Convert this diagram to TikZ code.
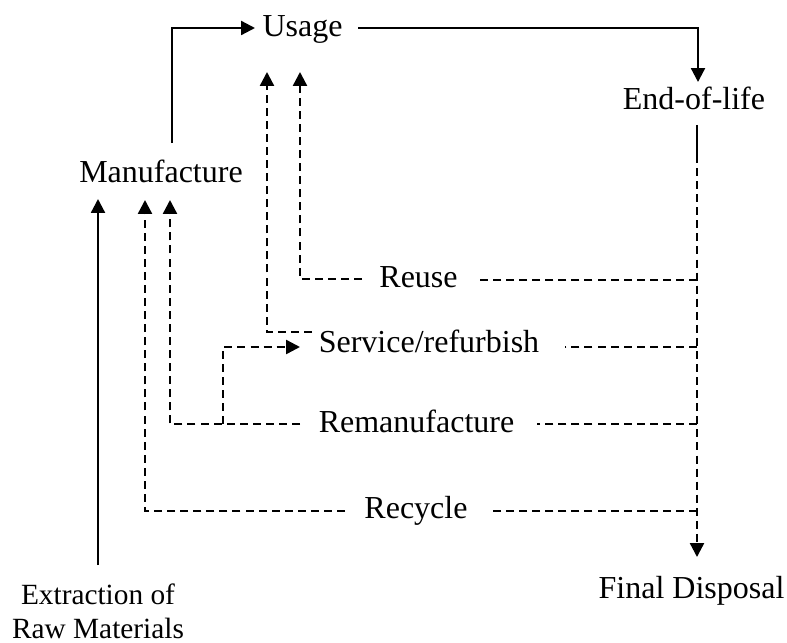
\documentclass[tikz,border=0pt]{standalone}
\usepackage{fontspec}
\setmainfont{Liberation Serif}
\usetikzlibrary{arrows.meta}
\begin{document}
\begin{tikzpicture}[x=0.375pt,y=-0.375pt,
  lbl/.style={font=\fontsize{12}{14}\selectfont, inner sep=0pt, anchor=base},
  small/.style={font=\fontsize{11}{13}\selectfont, inner sep=0pt, align=center, anchor=north},
  tip/.style={-{Triangle[length=5.2pt,width=5.2pt]}},
  flow/.style={line width=0.85pt},
  loop/.style={line width=0.9pt, dash pattern=on 3pt off 1.9pt}]
\useasboundingbox (0,0) rectangle (787,642);

% stages of the life cycle
\node[lbl] (use) at (302.5,37) {Usage};
\node[lbl] (eol) at (694,110) {End-of-life};
\node[lbl] (man) at (161,183) {Manufacture};
\node[lbl] (reu) at (418.5,287) {Reuse};
\node[lbl] (ser) at (429,352) {Service/refurbish};
\node[lbl] (rem) at (416.5,432) {Remanufacture};
\node[lbl] (rec) at (416,518) {Recycle};
\node[lbl] (fin) at (691.5,598) {Final Disposal};
\node[small] (ext) at (98,583) {Extraction of\\Raw Materials};

% end points and bends of the connectors
\coordinate (manTop) at (172,143);
\coordinate (manBend) at (172,28);
\coordinate (useIn) at (255,28);
\coordinate (useOut) at (358,28);
\coordinate (eolBend) at (698,28);
\coordinate (eolIn) at (698,82);
\coordinate (eolOut) at (697,125);
\coordinate (spine) at (697,155);
\coordinate (finIn) at (697,557);
\coordinate (extOut) at (98,565);
\coordinate (manInA) at (98,199);

\coordinate (reuR) at (697,280);
\coordinate (reuRend) at (477,280);
\coordinate (reuL) at (362,279);
\coordinate (reuBend) at (300,279);
\coordinate (reuUp) at (300,72);

\coordinate (serR) at (697,347);
\coordinate (serRend) at (565,347);
\coordinate (serL) at (312,332);
\coordinate (serBend) at (267,332);
\coordinate (serUp) at (267,72);

\coordinate (remR) at (697,424);
\coordinate (remRend) at (537,424);
\coordinate (remL) at (300,424);
\coordinate (remBend) at (170,424);
\coordinate (remUp) at (170,200);
\coordinate (remFork) at (223,424);
\coordinate (remForkBend) at (223,347);
\coordinate (serIn) at (300,347);

\coordinate (recR) at (697,511);
\coordinate (recRend) at (490,511);
\coordinate (recL) at (345,511);
\coordinate (recBend) at (145,511);
\coordinate (recUp) at (145,200);

% main forward flow
\draw[flow,tip] (manTop) -- (manBend) -- (useIn);
\draw[flow,tip] (useOut) -- (eolBend) -- (eolIn);
\draw[flow] (eolOut) -- (spine);
\draw[loop,tip] (spine) -- (finIn);
\draw[flow,tip] (extOut) -- (manInA);

% recovery loops
\draw[loop] (reuR) -- (reuRend);
\draw[loop,tip] (reuL) -- (reuBend) -- (reuUp);

\draw[loop] (serR) -- (serRend);
\draw[loop,tip] (serL) -- (serBend) -- (serUp);

\draw[loop] (remR) -- (remRend);
\draw[loop,tip] (remL) -- (remBend) -- (remUp);
\draw[loop,tip] (remFork) -- (remForkBend) -- (serIn);

\draw[loop] (recR) -- (recRend);
\draw[loop,tip] (recL) -- (recBend) -- (recUp);
\end{tikzpicture}
\end{document}
